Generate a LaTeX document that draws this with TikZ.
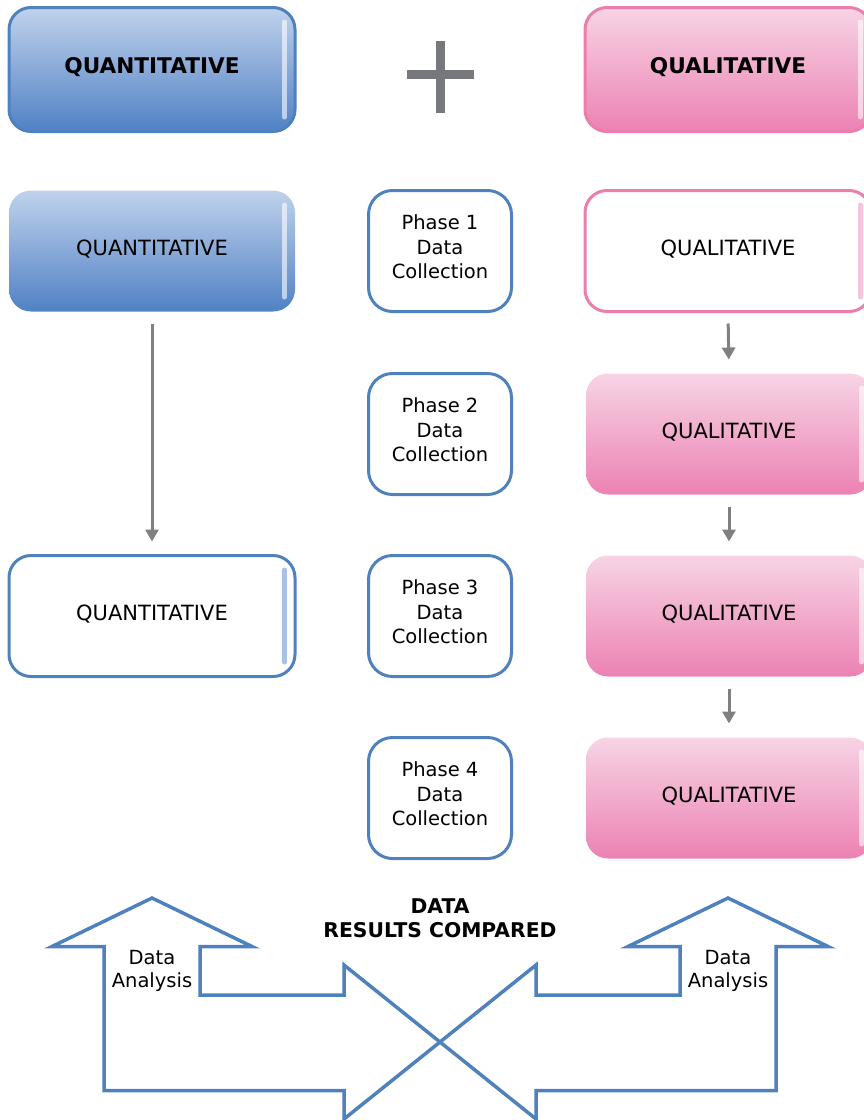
\documentclass[tikz,border=0pt]{standalone}
\usepackage{fontspec}
\setmainfont{DejaVu Sans}
\usetikzlibrary{arrows.meta}
\definecolor{qblue}{RGB}{79,129,189}
\definecolor{blueTop}{RGB}{192,210,236}
\definecolor{blueBot}{RGB}{80,129,197}
\definecolor{blueHl}{RGB}{167,194,230}
\definecolor{qpink}{RGB}{236,126,172}
\definecolor{pinkTop}{RGB}{247,212,229}
\definecolor{pinkBot}{RGB}{236,130,178}
\definecolor{pinkHl}{RGB}{246,196,220}
\definecolor{arrgray}{RGB}{128,128,128}
\definecolor{plusgray}{RGB}{118,120,124}
\tikzset{
  box/.style={rectangle, rounded corners=22pt, minimum width=286pt, minimum height=121pt,
    inner sep=0pt, line width=3pt, text height=15.5pt, text depth=7.5pt,
    font=\fontsize{21}{24}\selectfont},
  topbox/.style={box, minimum height=124pt, font=\fontsize{21.6}{24}\selectfont\bfseries},
  bluegrad/.style={top color=blueTop, bottom color=blueBot},
  pinkgrad/.style={top color=pinkTop, bottom color=pinkBot},
  phasebox/.style={rectangle, rounded corners=24pt, minimum width=143pt, minimum height=121pt,
    inner sep=0pt, line width=3pt, draw=qblue, fill=white},
  phasetxt/.style={align=center, inner sep=0pt, font=\fontsize{19.5}{24.5}\selectfont},
  labtxt/.style={align=center, inner sep=0pt, font=\fontsize{19.5}{23.5}\selectfont},
  boldtxt/.style={align=center, inner sep=0pt, font=\fontsize{20.3}{23.5}\selectfont\bfseries},
  hlwhite/.style={line width=5pt, line cap=round, white, opacity=0.6},
  hlblue/.style={line width=5pt, line cap=round, blueHl},
  hlpink/.style={line width=5pt, line cap=round, pinkHl},
  garrow/.style={draw=arrgray, line width=3pt, -{Triangle[length=12pt,width=13pt]},
    shorten <=10.5pt, shorten >=12.5pt},
  bigarrow/.style={draw=qblue, line width=3.5pt, line join=miter}
}
\newcommand{\hlbar}[2]{\draw[#1] ([xshift=-12pt,yshift=-16pt]#2.north east) -- ([xshift=-12pt,yshift=16pt]#2.south east);}
\begin{document}
\begin{tikzpicture}[x=1pt,y=-1pt]
\useasboundingbox (0,0) rectangle (864,1120);
\clip (0,0) rectangle (864,1120);

% top row
\node[topbox, bluegrad, draw=qblue] (qt) at (152,69.5) {QUANTITATIVE};
\hlbar{hlwhite}{qt}
\node[topbox, pinkgrad, draw=qpink] (lt) at (728,69.5) {QUALITATIVE};
\hlbar{hlwhite}{lt}
\fill[plusgray] (406.5,70) rectangle (473.5,79);
\fill[plusgray] (435.5,41) rectangle (444.5,113);

% row 2
\node[box, bluegrad] (q2) at (152,251) {QUANTITATIVE};
\hlbar{hlwhite}{q2}
\node[phasebox] (p1) at (440,251) {};
\node[phasetxt] (p1t) at ([yshift=4pt]p1.center) {Phase 1\\Data\\Collection};
\node[box, draw=qpink, fill=white] (l2) at (728,251) {QUALITATIVE};
\hlbar{hlpink}{l2}

% row 3
\node[phasebox] (p2) at (440,434) {};
\node[phasetxt] (p2t) at ([yshift=4pt]p2.center) {Phase 2\\Data\\Collection};
\node[box, pinkgrad] (l3) at (729,434) {QUALITATIVE};
\hlbar{hlwhite}{l3}

% row 4
\node[box, draw=qblue, fill=white] (q4) at (152,616) {QUANTITATIVE};
\hlbar{hlblue}{q4}
\node[phasebox] (p3) at (440,616) {};
\node[phasetxt] (p3t) at ([yshift=4pt]p3.center) {Phase 3\\Data\\Collection};
\node[box, pinkgrad] (l4) at (729,616) {QUALITATIVE};
\hlbar{hlwhite}{l4}

% row 5
\node[phasebox] (p4) at (440,798) {};
\node[phasetxt] (p4t) at ([yshift=4pt]p4.center) {Phase 4\\Data\\Collection};
\node[box, pinkgrad] (l5) at (729,798) {QUALITATIVE};
\hlbar{hlwhite}{l5}

% connectors
\draw[garrow] (q2.south) -- (q4.north);
\draw[garrow] (l2.south) -- (l3.north);
\draw[garrow] (l3.south) -- (l4.north);
\draw[garrow] (l4.south) -- (l5.north);

% big arrows
\draw[bigarrow] (104,1090.5) -- (104,946.5) -- (52,946.5) -- (152,898) -- (252,946.5)
  -- (200,946.5) -- (200,995) -- (344,995) -- (344,965) -- (440,1042) -- (344,1119)
  -- (344,1090.5) -- cycle;
\draw[bigarrow] (776,1090.5) -- (776,946.5) -- (828,946.5) -- (728,898) -- (628,946.5)
  -- (680,946.5) -- (680,995) -- (536,995) -- (536,965) -- (440,1042) -- (536,1119)
  -- (536,1090.5) -- cycle;

\node[labtxt] (da1) at (152,971) {Data\\Analysis};
\node[labtxt] (da2) at (728,971) {Data\\Analysis};
\node[boldtxt] (cmp) at (440,918) {DATA\\RESULTS COMPARED};
\end{tikzpicture}
\end{document}
